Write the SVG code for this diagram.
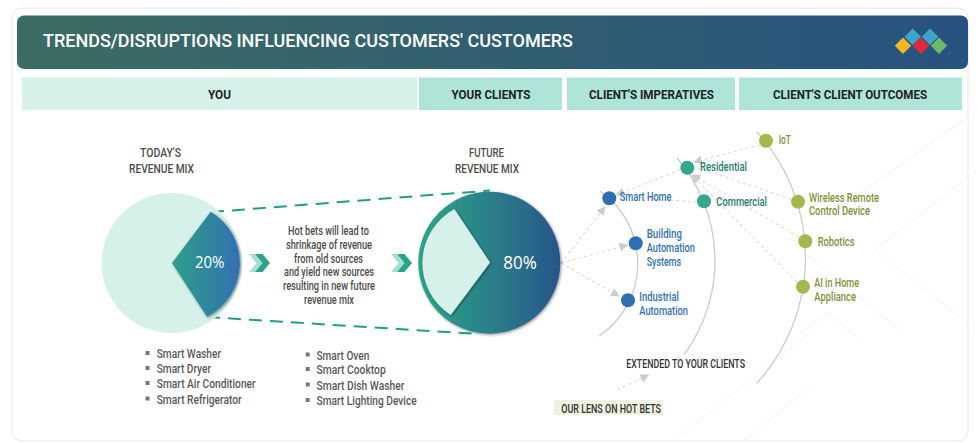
<svg xmlns="http://www.w3.org/2000/svg" width="978" height="443" viewBox="0 0 978 443">
<style>
text{font-family:Roboto,"Liberation Sans",Arial,sans-serif}
.hd{font-weight:700;font-size:12.5px;fill:#222;text-anchor:middle}
.t{font-size:13px;font-weight:500;fill:#4d4d4d}
.li{font-size:13.5px;font-weight:500;fill:#5a5a5a}
.b{font-size:13px;font-weight:500;fill:#3272b3}
.g{font-size:13px;font-weight:500;fill:#27806f}
.o{font-size:13px;font-weight:500;fill:#7f9139}
.k{font-size:13px;font-weight:500;fill:#333}
.arc{fill:none;stroke:#cbcbcb;stroke-width:1.3}
.dash{fill:none;stroke:#dadada;stroke-width:1.1;stroke-dasharray:3 3}
.arrow{marker-end:url(#ah)}
.teal{fill:none;stroke:#1f9f86;stroke-width:2;stroke-dasharray:13 8}
.bg{fill:none;stroke:#f2f3f3;stroke-width:1}
.nb{fill:#2f6fb5}.ng{fill:#36a78f}.no{fill:#a2b94b}
.bul{fill:#777}
</style>
<defs>
<linearGradient id="hg" x1="0" x2="1" y1="0" y2="0"><stop offset="0" stop-color="#3b6d63"/><stop offset="1" stop-color="#27527f"/></linearGradient>
<linearGradient id="lw" x1="0" x2="1" y1="0" y2="0"><stop offset="0" stop-color="#2f9f88"/><stop offset="1" stop-color="#3070b2"/></linearGradient>
<linearGradient id="rc" x1="0" x2="1" y1="0" y2="0"><stop offset="0" stop-color="#2ea48b"/><stop offset="0.35" stop-color="#2c8c88"/><stop offset="1" stop-color="#27558a"/></linearGradient>
<filter id="sh" x="-20%" y="-20%" width="140%" height="140%"><feDropShadow dx="1" dy="1" stdDeviation="1.5" flood-color="#000" flood-opacity="0.45"/></filter>
<marker id="ah" markerWidth="10" markerHeight="10" refX="8" refY="4.500" orient="auto" markerUnits="userSpaceOnUse"><path d="M0 0L9 4.500L0 9Z" fill="#cccccc"/></marker>
</defs>
<rect width="978" height="443" fill="#fff"/>
<rect x="12" y="8" width="956" height="433" rx="10" fill="#fff" stroke="#e6e6e6"/>
<g id="background-lines">
<path class="bg" d="M963 120L810 230M977 170L875 250L977 330M807 255L900 330M673 441L810 333M743 441L810 387M953 130L977 110M828 313L800 333M828 313L860 340"/>
</g>
<g id="header">
<rect x="17" y="15.5" width="951" height="53.5" rx="7" fill="url(#hg)"/>
<text x="43" y="46.500" font-size="18" fill="#fff" textLength="530" lengthAdjust="spacingAndGlyphs" font-weight="500">TRENDS/DISRUPTIONS INFLUENCING CUSTOMERS' CUSTOMERS</text>
</g>
<g id="logo">
<path fill="#3ba6c9" d="M912.700 28.500l8.300 8.200-8.300 8.300-8.200-8.300zM930 28.500l8.300 8.200-8.300 8.300-8.200-8.300z"/>
<path fill="#f2b824" d="M903 37.500l8.200 8.200-8.200 8.300-8.200-8.300z"/>
<path fill="#e5263f" d="M921 37.500l8.200 8.200-8.200 8.300-8.200-8.300z"/>
<path fill="#6cb96a" d="M939 37.500l8.200 8.200-8.200 8.300-8.200-8.300z"/>
</g>
<g id="col-you"><rect x="22" y="77.5" width="395" height="32.5" fill="#d5f1e9"/><text class="hd" x="219.5" y="98.500" textLength="23" lengthAdjust="spacingAndGlyphs">YOU</text></g>
<g id="col-clients"><rect x="419" y="77.5" width="143" height="32.5" fill="#aee5d8"/><text class="hd" x="491" y="98.500" textLength="79" lengthAdjust="spacingAndGlyphs">YOUR CLIENTS</text></g>
<g id="col-imperatives"><rect x="567" y="77.5" width="168" height="32.5" fill="#aee5d8"/><text class="hd" x="651.5" y="98.500" textLength="125" lengthAdjust="spacingAndGlyphs">CLIENT'S IMPERATIVES</text></g>
<g id="col-outcomes"><rect x="739" y="77.5" width="223" height="32.5" fill="#aee5d8"/><text class="hd" x="850" y="98.500" textLength="154" lengthAdjust="spacingAndGlyphs">CLIENT'S CLIENT OUTCOMES</text></g>

<g id="connectors">
<path class="teal" d="M211 212L490 190.500M207 317L478 334"/>
<path class="arc" d="M600 191A88 88 0 0 1 599.300 336"/>
<path class="arc" d="M677 158A158 158 0 0 1 684.300 354.300"/>
<path class="arc" d="M756.700 131.700A186.500 186.500 0 0 1 756.700 383.300"/>
<path class="dash arrow" d="M561 263L605 207"/>
<path class="dash arrow" d="M561 263L627.500 245"/>
<path class="dash arrow" d="M561 263L619 296"/>
<path class="dash arrow" d="M680 170L616.500 195"/>
<path class="dash" d="M697 202L620 196"/>
<path class="dash arrow" d="M760 145L694 162"/>
<path class="dash" d="M791 199L695 167"/>
<path class="dash arrow" d="M799 237L692 175"/>
<path class="dash arrow" d="M797 282L692 175"/>
<path class="dash arrow" d="M617.500 389.500L648.500 375"/>
</g>

<g id="todays-mix">
<text class="t" x="140" y="156.500" textLength="41" lengthAdjust="spacingAndGlyphs">TODAY'S</text>
<text class="t" x="129" y="172.500" textLength="65" lengthAdjust="spacingAndGlyphs">REVENUE MIX</text>
<circle cx="171.700" cy="263" r="70" fill="#d5f1e9"/>
<path d="M172 263L210.700 211.700A60 60 0 0 1 207 316.700Z" fill="url(#lw)" filter="url(#sh)"/>
<text x="195" y="267.500" font-size="16" fill="#fff" textLength="29.500" lengthAdjust="spacingAndGlyphs" style="font-family:'Open Sans',sans-serif">20%</text>
</g>
<g id="chevron-left">
<path fill="#a5dfd0" d="M249 254h6l7.500 9-7.500 9h-6l7.500-9z"/>
<path fill="#2aa58c" d="M255 254h7.500l7.500 9-7.500 9h-7.500l7.500-9z"/>
</g>
<g id="hot-bets-text">
<text class="t" x="288" y="235" textLength="81" lengthAdjust="spacingAndGlyphs">Hot bets will lead to</text>
<text class="t" x="286" y="248.600" textLength="86" lengthAdjust="spacingAndGlyphs">shrinkage of revenue</text>
<text class="t" x="294" y="262.600" textLength="69" lengthAdjust="spacingAndGlyphs">from old sources</text>
<text class="t" x="284" y="276.300" textLength="90" lengthAdjust="spacingAndGlyphs">and yield new sources</text>
<text class="t" x="283" y="290" textLength="92" lengthAdjust="spacingAndGlyphs">resulting in new future</text>
<text class="t" x="304" y="303.600" textLength="50" lengthAdjust="spacingAndGlyphs">revenue mix</text>
</g>
<g id="chevron-right">
<path fill="#a5dfd0" d="M391 254h6l7.500 9-7.500 9h-6l7.500-9z"/>
<path fill="#2aa58c" d="M397 254h7.500l7.500 9-7.500 9h-7.500l7.500-9z"/>
</g>
<g id="future-mix">
<text class="t" x="469" y="156.500" textLength="35" lengthAdjust="spacingAndGlyphs">FUTURE</text>
<text class="t" x="455" y="172.500" textLength="64" lengthAdjust="spacingAndGlyphs">REVENUE MIX</text>
<circle cx="489.300" cy="262.700" r="71" fill="url(#rc)" filter="url(#sh)"/>
<path d="M490 262.500L454.300 209A61.800 61.800 0 0 0 450.700 315Z" fill="#d5f1e9" filter="url(#sh)"/>
<text x="503.300" y="268.500" font-size="18.500" fill="#fff" textLength="33.500" lengthAdjust="spacingAndGlyphs" style="font-family:'Open Sans',sans-serif">80%</text>
</g>
<g id="list-today">
<rect class="bul" x="145.500" y="351" width="4" height="4"/><text class="li" x="156.700" y="358" textLength="64.300" lengthAdjust="spacingAndGlyphs">Smart Washer</text>
<rect class="bul" x="145.500" y="366" width="4" height="4"/><text class="li" x="156.700" y="373" textLength="54.300" lengthAdjust="spacingAndGlyphs">Smart Dryer</text>
<rect class="bul" x="145.500" y="381" width="4" height="4"/><text class="li" x="156.700" y="388" textLength="99" lengthAdjust="spacingAndGlyphs">Smart Air Conditioner</text>
<rect class="bul" x="145.500" y="396.500" width="4" height="4"/><text class="li" x="156.700" y="403.500" textLength="85" lengthAdjust="spacingAndGlyphs">Smart Refrigerator</text>
</g>
<g id="list-future">
<rect class="bul" x="305.700" y="352.500" width="4" height="4"/><text class="li" x="316.500" y="359.500" textLength="52.800" lengthAdjust="spacingAndGlyphs">Smart Oven</text>
<rect class="bul" x="305.700" y="367" width="4" height="4"/><text class="li" x="316.500" y="374" textLength="69.200" lengthAdjust="spacingAndGlyphs">Smart Cooktop</text>
<rect class="bul" x="305.700" y="382.500" width="4" height="4"/><text class="li" x="316.500" y="389.500" textLength="87.800" lengthAdjust="spacingAndGlyphs">Smart Dish Washer</text>
<rect class="bul" x="305.700" y="398" width="4" height="4"/><text class="li" x="316.500" y="405" textLength="100.200" lengthAdjust="spacingAndGlyphs">Smart Lighting Device</text>
</g>

<g id="node-smart-home"><circle class="nb" cx="609.300" cy="198.300" r="7"/><text class="b" x="619.700" y="200.800" textLength="51.800" lengthAdjust="spacingAndGlyphs">Smart Home</text></g>
<g id="node-building"><circle class="nb" cx="635.700" cy="243.300" r="7"/>
<text class="b" x="646.700" y="238.200" textLength="35.300" lengthAdjust="spacingAndGlyphs">Building</text>
<text class="b" x="646.700" y="251.800" textLength="48.300" lengthAdjust="spacingAndGlyphs">Automation</text>
<text class="b" x="646.700" y="265.800" textLength="34.300" lengthAdjust="spacingAndGlyphs">Systems</text></g>
<g id="node-industrial"><circle class="nb" cx="628" cy="300.300" r="7"/>
<text class="b" x="639.300" y="300.500" textLength="39.700" lengthAdjust="spacingAndGlyphs">Industrial</text>
<text class="b" x="639.300" y="314.500" textLength="48.700" lengthAdjust="spacingAndGlyphs">Automation</text></g>
<g id="node-residential"><circle class="ng" cx="687.300" cy="167.700" r="7"/><text class="g" x="700" y="171.200" textLength="47" lengthAdjust="spacingAndGlyphs">Residential</text></g>
<g id="node-commercial"><circle class="ng" cx="704" cy="201.300" r="7"/><text class="g" x="716.300" y="205.800" textLength="50.700" lengthAdjust="spacingAndGlyphs">Commercial</text></g>
<g id="node-iot"><circle class="no" cx="766" cy="140.700" r="7"/><text class="o" x="778.700" y="144.200" textLength="12.300" lengthAdjust="spacingAndGlyphs">IoT</text></g>
<g id="node-wireless"><circle class="no" cx="798" cy="201.700" r="7"/>
<text class="o" x="809" y="201.500" textLength="70" lengthAdjust="spacingAndGlyphs">Wireless Remote</text>
<text class="o" x="809" y="215.200" textLength="61" lengthAdjust="spacingAndGlyphs">Control Device</text></g>
<g id="node-robotics"><circle class="no" cx="805.300" cy="241.300" r="7"/><text class="o" x="817.700" y="246.200" textLength="36.800" lengthAdjust="spacingAndGlyphs">Robotics</text></g>
<g id="node-ai"><circle class="no" cx="803" cy="286.700" r="7"/>
<text class="o" x="814.300" y="286.800" textLength="44.700" lengthAdjust="spacingAndGlyphs">AI in Home</text>
<text class="o" x="814.300" y="300.500" textLength="41.700" lengthAdjust="spacingAndGlyphs">Appliance</text></g>
<g id="label-extended"><text class="k" x="626.300" y="367.800" textLength="118.700" lengthAdjust="spacingAndGlyphs">EXTENDED TO YOUR CLIENTS</text></g>
<g id="label-lens"><rect x="554" y="400" width="109" height="15" fill="#eef2e0"/><text class="k" x="561.300" y="412.500" textLength="99.700" lengthAdjust="spacingAndGlyphs">OUR LENS ON HOT BETS</text></g>
</svg>
